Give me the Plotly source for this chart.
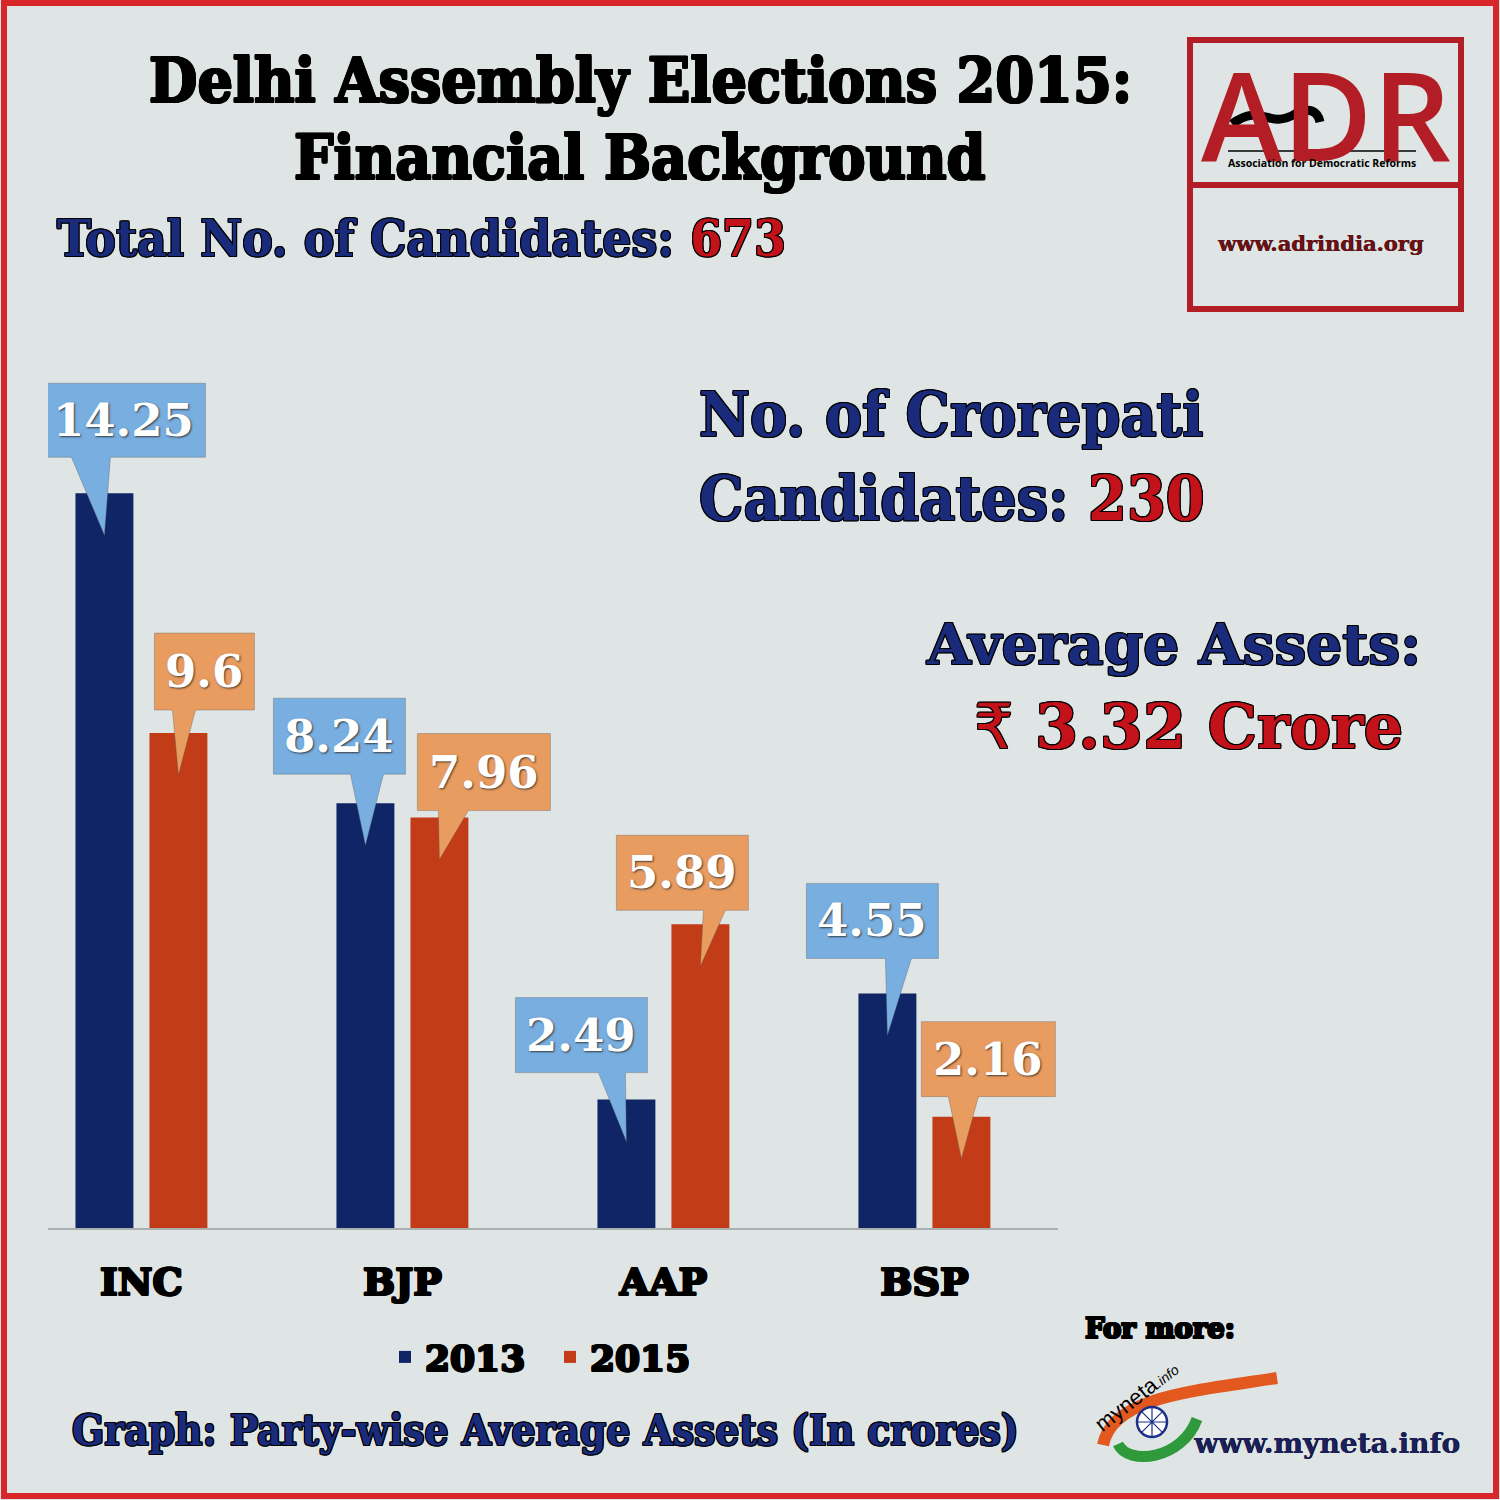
import plotly.graph_objects as go

# data (average assets, in crores)
parties = ["INC", "BJP", "AAP", "BSP"]
assets_2013 = [14.25, 8.24, 2.49, 4.55]
assets_2015 = [9.6, 7.96, 5.89, 2.16]
years = ["2013", "2015"]

total_candidates = 673
crorepati_candidates = 230
average_assets = 3.32

# colours
NAVY_BAR = "#0f2565"
RED_BAR = "#c13c17"
BLUE_TAG = "#78aee0"
ORANGE_TAG = "#e99c60"
NAVY_TXT = "#1a2b7c"
RED_TXT = "#c4121a"
ADR_RED = "#b31e26"
BG = "#dfe5e4"

SLAB = "DejaVu Serif, serif"
SLAB_C = "DejaVu Serif Condensed, DejaVu Serif, serif"
# fake a heavier weight by stroking glyphs in their own colour
HEAVY = "1px 0 0, -1px 0 0, 0 1px 0, 0 -1px 0, 1px 1px 0, -1px -1px 0, 1px -1px 0, -1px 1px 0"

W = H = 1500
BARGAP = 0.433
half_slot = (1 - BARGAP) / 4

# callout geometry in pixels relative to the top of each bar (up = positive)
# (box left, box right, box bottom, box top, pointer left, pointer right)
tags_2013 = [(-63, 101, 36, 110, -33, 6), (-92, 40, 29, 105, -15, 18),
             (-111, 21, 27, 102, -28, -1), (-81, 51, 35, 110, -2, 24)]
tags_2015 = [(-24, 76, 23, 100, -6, 17), (-22, 111, 7, 84, -1, 29),
             (-84, 48, 14, 89, 3, 25), (-40, 94, 20, 95, -13, 17)]
TIP = -42

x_idx = list(range(len(parties)))

fig = go.Figure()
fig.add_trace(go.Bar(x=x_idx, y=assets_2013, name=years[0],
                     marker=dict(color=NAVY_BAR, line=dict(width=0))))
fig.add_trace(go.Bar(x=x_idx, y=assets_2015, name=years[1],
                     marker=dict(color=RED_BAR, line=dict(width=0))))

shapes = []
annotations = []


def px(x, y):
    return dict(x=x / W, y=1 - y / H, xref="paper", yref="paper")


def txt(s, x, y, size, color, family=SLAB_C, weight="bold", xanchor="center", shadow=HEAVY, **kw):
    d = dict(text=s, showarrow=False, xanchor=xanchor, yanchor="middle",
             font=dict(family=family, size=size, color=color, weight=weight, shadow=shadow), **kw)
    d.update(px(x, y))
    return d


# value callouts
for values, tags, shift, col in [(assets_2013, tags_2013, -half_slot, BLUE_TAG),
                                 (assets_2015, tags_2015, half_slot, ORANGE_TAG)]:
    for i, (v, t) in enumerate(zip(values, tags)):
        x0, x1, y0, y1, p0, p1 = t
        path = (f"M{x0},{y0} L{x0},{y1} L{x1},{y1} L{x1},{y0} "
                f"L{p1},{y0} L0,{TIP} L{p0},{y0} Z")
        shapes.append(dict(type="path", xref="x", yref="y",
                           xsizemode="pixel", ysizemode="pixel",
                           xanchor=i + shift, yanchor=v, path=path,
                           fillcolor=col, line=dict(color="rgba(90,90,90,0.35)", width=1),
                           layer="above"))
        annotations.append(dict(x=i + shift, y=v, xref="x", yref="y", showarrow=False,
                                text=f"{v:g}", xshift=(x0 + x1) / 2, yshift=(y0 + y1) / 2,
                                xanchor="center", yanchor="middle",
                                font=dict(family=SLAB, size=45, color="white", weight="bold",
                                          shadow="1px 1px 2px rgba(40,40,40,0.85)")))

# headings
annotations.append(txt("Delhi Assembly Elections 2015:", 640, 80, 62, "black"))
annotations.append(txt("Financial Background", 640, 158, 62, "black"))
annotations.append(txt(f"Total No. of Candidates: <span style='color:{RED_TXT}'>{total_candidates}</span>",
                       55, 238, 51, NAVY_TXT, xanchor="left"))
annotations.append(txt("No. of Crorepati", 697, 414, 62, NAVY_TXT, xanchor="left"))
annotations.append(txt(f"Candidates: <span style='color:{RED_TXT}'>{crorepati_candidates}</span>",
                       697, 498, 62, NAVY_TXT, xanchor="left"))
annotations.append(txt("Average Assets:", 1423, 644, 56.5, NAVY_TXT, family=SLAB, xanchor="right"))
annotations.append(txt(f"<span style='font-weight:normal;font-family:DejaVu Sans'>₹</span> {average_assets:g} Crore",
                       1405, 726, 62, RED_TXT, family=SLAB, xanchor="right"))
annotations.append(txt("Graph: Party-wise Average Assets (In crores)", 545, 1430, 42, NAVY_TXT))
annotations.append(txt("For more:", 1083, 1328, 27.5, "black", family=SLAB, xanchor="left"))
annotations.append(txt("www.myneta.info", 1462, 1443, 28, "#1b1f5c", family=SLAB,
                       xanchor="right", shadow="0.6px 0 0"))

# ADR logo
shapes.append(dict(type="rect", xref="paper", yref="paper", x0=1190 / W, x1=1461 / W,
                   y0=1 - 309 / H, y1=1 - 40 / H, line=dict(color=ADR_RED, width=6)))
shapes.append(dict(type="line", xref="paper", yref="paper", x0=1190 / W, x1=1461 / W,
                   y0=1 - 185 / H, y1=1 - 185 / H, line=dict(color=ADR_RED, width=6)))
annotations.append(txt("ADR", 1326, 113, 123, ADR_RED, family="Open Sans", weight=600, shadow="none"))
shapes.append(dict(type="line", xref="paper", yref="paper", x0=1228 / W, x1=1416 / W,
                   y0=1 - 151 / H, y1=1 - 151 / H, line=dict(color="black", width=1.5)))
shapes.append(dict(type="path", xref="paper", yref="paper",
                   path=(f"M{1232 / W},{1 - 124 / H} C{1262 / W},{1 - 102 / H} "
                         f"{1268 / W},{1 - 130 / H} {1295 / W},{1 - 114 / H} "
                         f"C{1310 / W},{1 - 106 / H} {1318 / W},{1 - 112 / H} {1320 / W},{1 - 122 / H}"),
                   line=dict(color="black", width=9)))
annotations.append(txt("Association for Democratic Reforms", 1322, 163, 10.5, "black",
                       family="Open Sans", weight="bold", shadow="none"))
annotations.append(txt("www.adrindia.org", 1320, 243, 21, "#6e0f14", family=SLAB, shadow="0.5px 0 0"))

# myneta logo
shapes.append(dict(type="path", xref="paper", yref="paper",
                   path=(f"M{1103 / W},{1 - 1445 / H} C{1112 / W},{1 - 1398 / H} "
                         f"{1185 / W},{1 - 1392 / H} {1277 / W},{1 - 1378 / H}"),
                   line=dict(color="#e2581f", width=12)))
shapes.append(dict(type="path", xref="paper", yref="paper",
                   path=(f"M{1118 / W},{1 - 1444 / H} C{1128 / W},{1 - 1466 / H} "
                         f"{1182 / W},{1 - 1460 / H} {1197 / W},{1 - 1419 / H}"),
                   line=dict(color="#2f9a3b", width=11)))
shapes.append(dict(type="circle", xref="paper", yref="paper",
                   x0=1137 / W, x1=1167 / W, y0=1 - 1437 / H, y1=1 - 1407 / H,
                   fillcolor="white", line=dict(color="#1d2f8a", width=2.5)))
shapes.append(dict(type="path", xref="paper", yref="paper",
                   path=(f"M{1137 / W},{1 - 1422 / H} L{1167 / W},{1 - 1422 / H} "
                         f"M{1152 / W},{1 - 1407 / H} L{1152 / W},{1 - 1437 / H} "
                         f"M{1141.4 / W},{1 - 1411.4 / H} L{1162.6 / W},{1 - 1432.6 / H} "
                         f"M{1141.4 / W},{1 - 1432.6 / H} L{1162.6 / W},{1 - 1411.4 / H}"),
                   line=dict(color="#1d2f8a", width=1.2)))
annotations.append(txt("myneta<span style='font-size:14px;font-style:italic'>.info</span>",
                       1136, 1396, 22, "black", family="Liberation Sans", weight="normal",
                       shadow="none", textangle=-38))

# page border
shapes.append(dict(type="rect", xref="paper", yref="paper", x0=4 / W, x1=1496 / W,
                   y0=4 / H, y1=1 - 3 / H, line=dict(color="#d9262b", width=6), layer="above"))

fig.update_layout(
    width=W, height=H,
    margin=dict(l=0, r=0, t=0, b=0),
    paper_bgcolor=BG, plot_bgcolor="rgba(0,0,0,0)",
    barmode="group", bargap=BARGAP, bargroupgap=0.217,
    shapes=shapes, annotations=annotations,
    showlegend=True,
    legend=dict(orientation="h", x=385 / W, y=1 - 1357 / H, xanchor="left", yanchor="middle",
                bgcolor="rgba(0,0,0,0)", entrywidth=120, entrywidthmode="pixels",
                font=dict(family=SLAB, size=36, color="black", weight="bold", shadow=HEAVY),
                itemclick=False, itemdoubleclick=False),
    xaxis=dict(domain=[48 / W, 1057.5 / W], range=[-0.358, 3.51],
               tickvals=x_idx, ticktext=parties, showgrid=False, zeroline=False,
               showline=True, linecolor="#aab0b0", linewidth=1.5,
               ticks="outside", ticklen=20, tickcolor="rgba(0,0,0,0)",
               tickfont=dict(family=SLAB, size=38, color="black", weight="bold", shadow=HEAVY),
               fixedrange=True),
    yaxis=dict(domain=[1 - 1228 / H, 1 - 351.5 / H], range=[0, 17], visible=False,
               fixedrange=True),
)

fig.write_html("out.html", config={"displayModeBar": False},
               post_script="document.body.style.margin='0px';document.body.style.overflow='hidden';")
